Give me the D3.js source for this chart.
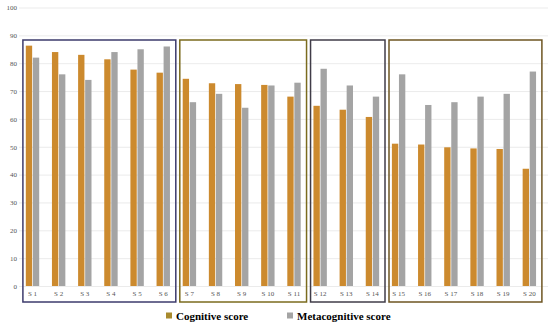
<!DOCTYPE html>
<html>
<head>
<meta charset="utf-8">
<script src="https://cdn.jsdelivr.net/npm/d3@7"></script>
<style>
  html, body { margin: 0; padding: 0; background: #fff; }
  svg { display: block; font-family: "Liberation Serif", "Times New Roman", serif; }
</style>
</head>
<body>
<div id="chart"></div>
<script>
const students = ['S 1','S 2','S 3','S 4','S 5','S 6','S 7','S 8','S 9','S 10',
  'S 11','S 12','S 13','S 14','S 15','S 16','S 17','S 18','S 19','S 20']
const cognitive = [86.3, 84, 83, 81.4, 77.7, 76.6, 74.4, 72.8, 72.5, 72.2,
  68, 64.7, 63.3, 60.7, 51.1, 50.8, 49.8, 49.4, 49.2, 42.1]
const metacognitive = [82, 76, 74, 84, 85, 86, 66, 69, 64, 72,
  73, 78, 72, 68, 76, 65, 66, 68, 69, 77]
const yTicks = [0, 10, 20, 30, 40, 50, 60, 70, 80, 90, 100]
const seriesNames = ['Cognitive score', 'Metacognitive score']
// groups of students framed by a box: [first, last]
const groups = [['S 1', 'S 6'], ['S 7', 'S 11'], ['S 12', 'S 14'], ['S 15', 'S 20']]

const w = 550, h = 324
const colors = ['#cc8a2e', '#a4a4a4']
const boxColors = ['#3d3b6c', '#7b6b1e', '#403c48', '#6e5522']

const svg = d3.select('#chart').append('svg')
  .attr('width', w).attr('height', h)

const x = d3.scaleBand()
  .domain(students)
  .range([19.4, 542.4])

const x1 = d3.scaleBand()
  .domain(seriesNames)
  .range([6.4, 19.8])
  .paddingInner(0.1)

const y = d3.scaleLinear()
  .domain([0, 100])
  .range([286, 7.5])

// gridlines
svg.append('g')
  .attr('transform', 'translate(19,0)')
  .call(d3.axisRight(y).tickValues(yTicks).tickSize(529).tickFormat(''))
  .call(g => g.select('.domain').remove())
  .call(g => g.selectAll('line').attr('stroke', '#e6e6e6').attr('stroke-width', 0.8))

// y labels
svg.append('g')
  .attr('transform', 'translate(18,0)')
  .call(d3.axisLeft(y).tickValues(yTicks).tickSize(0).tickPadding(1))
  .call(g => g.select('.domain').remove())
  .call(g => g.selectAll('text')
    .attr('fill', '#555')
    .style('font-size', '7px')
    .style('font-family', '"Liberation Serif", serif'))

// bars
const rows = students.map((s, i) => ({ s, vals: [cognitive[i], metacognitive[i]] }))

const cat = svg.append('g').selectAll('g')
  .data(rows)
  .enter()
  .append('g')
    .attr('transform', d => 'translate(' + x(d.s) + ',0)')

cat.selectAll('rect')
  .data(d => d.vals.map((v, k) => ({ key: seriesNames[k], v, k })))
  .enter()
  .append('rect')
    .attr('x', d => x1(d.key))
    .attr('y', d => y(d.v))
    .attr('width', x1.bandwidth())
    .attr('height', d => y(0) - y(d.v))
    .attr('fill', d => colors[d.k])

// category labels
svg.append('g')
  .attr('transform', 'translate(0,286)')
  .call(d3.axisBottom(x).tickSize(0).tickPadding(5))
  .call(g => g.select('.domain').remove())
  .call(g => g.selectAll('text')
    .attr('fill', '#555')
    .style('font-size', '7px')
    .style('font-family', '"Liberation Serif", serif'))

// group boxes
svg.append('g').selectAll('rect')
  .data(groups)
  .enter()
  .append('rect')
    .attr('x', d => x(d[0]) + 3.5)
    .attr('y', 40)
    .attr('width', d => x(d[1]) + x.step() - x(d[0]) - 4)
    .attr('height', 262)
    .attr('fill', 'none')
    .attr('stroke', (d, i) => boxColors[i])
    .attr('stroke-width', 1.5)

// legend
const legendX = [166, 287]
const legend = svg.append('g').selectAll('g')
  .data(seriesNames)
  .enter()
  .append('g')
    .attr('transform', (d, i) => 'translate(' + legendX[i] + ',316)')

legend.append('rect')
  .attr('x', 0).attr('y', -3.5)
  .attr('width', 6).attr('height', 6)
  .attr('fill', (d, i) => i === 0 ? '#a88a2e' : colors[1])

legend.append('text')
  .attr('x', 10)
  .attr('dy', '0.35em')
  .style('font-size', '11px')
  .style('font-weight', 'bold')
  .attr('fill', '#000')
  .text(d => d)
</script>
</body>
</html>
